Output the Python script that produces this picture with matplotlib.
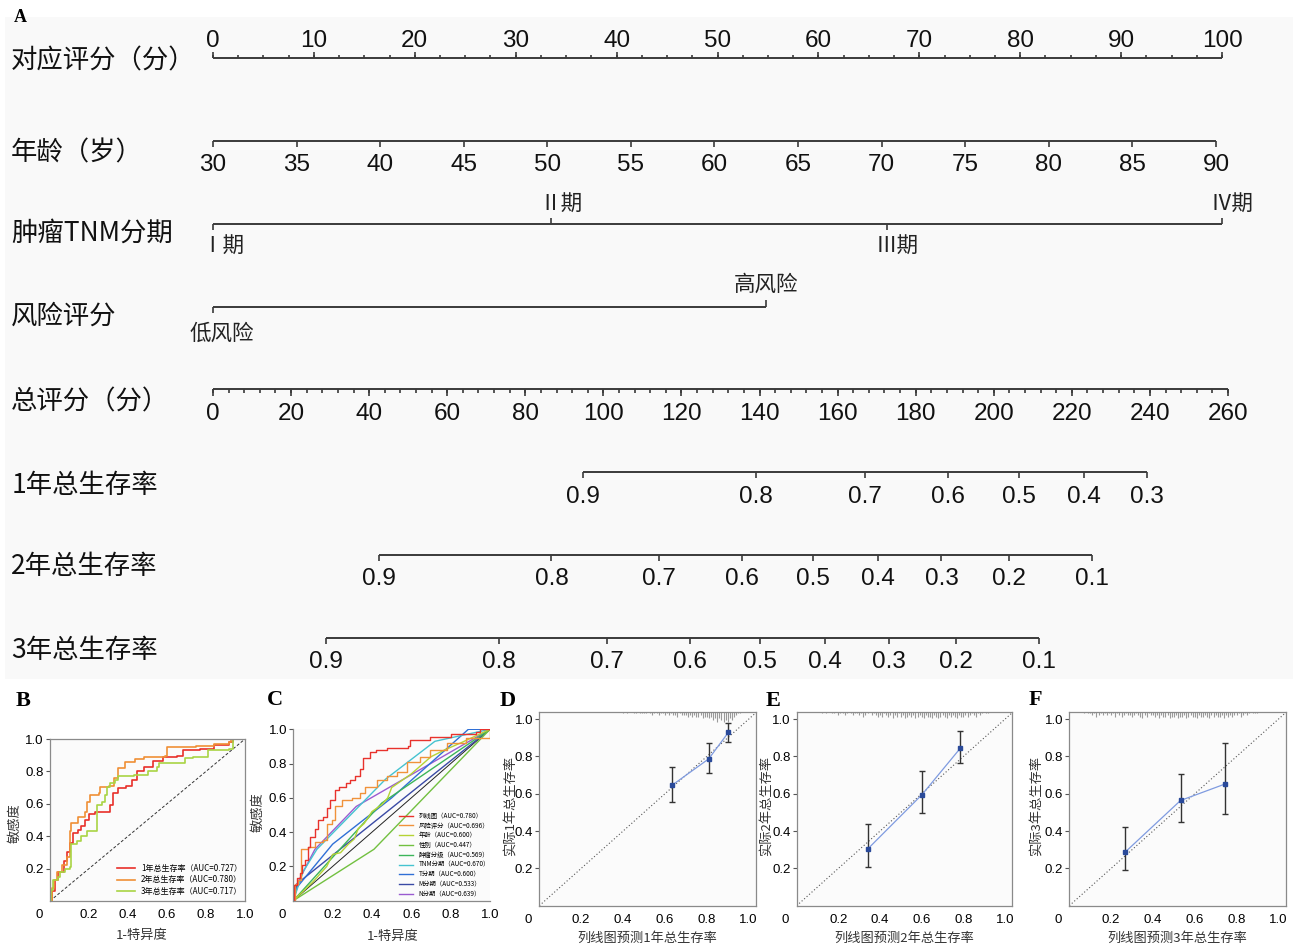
import numpy as np
import matplotlib
matplotlib.use('Agg')
import matplotlib.pyplot as plt
from matplotlib.transforms import offset_copy

plt.rcParams['font.family'] = ['Noto Sans CJK SC', 'DejaVu Sans']
NUM = ['Liberation Sans', 'DejaVu Sans']
SANS = ['Liberation Sans', 'DejaVu Sans']
SERIF = ['Liberation Serif', 'DejaVu Serif']

W, H = 1298, 946

# ---------------- nomogram (panel A) ----------------
row_names = ['对应评分（分）', '年龄（岁）', '肿瘤TNM分期', '风险评分',
             '总评分（分）', '1年总生存率', '2年总生存率', '3年总生存率']
points_ticks = list(range(0, 101, 10))
age_ticks = list(range(30, 91, 5))
age_max_points = 99.4
tnm_labels = ['Ⅰ期', 'Ⅱ期', 'Ⅲ期', 'Ⅳ期']
tnm_points = [0, 33.5, 66.8, 100]
tnm_up = [False, True, False, True]
risk_labels = ['低风险', '高风险']
risk_points = [0, 54.8]
risk_up = [False, True]
total_ticks = list(range(0, 261, 20))
total_max = 260
surv1_labels = ['0.9', '0.8', '0.7', '0.6', '0.5', '0.4', '0.3']
surv1_total = [94.8, 139.1, 166.9, 188.3, 206.5, 223.1, 239.3]
surv2_labels = ['0.9', '0.8', '0.7', '0.6', '0.5', '0.4', '0.3', '0.2', '0.1']
surv2_total = [42.4, 86.7, 114.2, 135.6, 153.7, 170.3, 186.6, 203.8, 225.1]
surv3_labels = ['0.9', '0.8', '0.7', '0.6', '0.5', '0.4', '0.3', '0.2', '0.1']
surv3_total = [28.9, 73.2, 100.8, 122.1, 140.2, 156.8, 173.1, 190.3, 211.5]

# ---------------- ROC (panel B) ----------------
roc1_x = [0, 0.01, 0.026, 0.043, 0.07, 0.085, 0.10, 0.12, 0.145, 0.16, 0.18, 0.20, 0.23, 0.29,
          0.31, 0.325, 0.35, 0.39, 0.42, 0.445, 0.48, 0.53, 0.58, 0.65, 0.68, 0.77, 0.84, 0.92, 0.94, 1.0]
roc1_y = [0, 0.06, 0.13, 0.18, 0.25, 0.30, 0.36, 0.42, 0.44, 0.46, 0.50, 0.54, 0.55, 0.55,
          0.59, 0.665, 0.70, 0.71, 0.75, 0.80, 0.83, 0.865, 0.887, 0.895, 0.93, 0.94, 0.96, 0.98, 1.0, 1.0]
roc2_x = [0, 0.01, 0.02, 0.034, 0.06, 0.085, 0.10, 0.11, 0.145, 0.18, 0.19, 0.205, 0.25, 0.256,
          0.30, 0.33, 0.35, 0.385, 0.436, 0.48, 0.59, 0.60, 0.75, 0.84, 0.92, 0.93, 1.0]
roc2_y = [0, 0.08, 0.13, 0.18, 0.22, 0.27, 0.43, 0.48, 0.52, 0.55, 0.61, 0.655, 0.665, 0.706,
          0.71, 0.76, 0.82, 0.86, 0.875, 0.89, 0.895, 0.95, 0.956, 0.97, 0.98, 1.0, 1.0]
roc3_x = [0, 0.005, 0.017, 0.043, 0.05, 0.077, 0.10, 0.11, 0.137, 0.16, 0.19, 0.23, 0.24, 0.265,
          0.28, 0.29, 0.31, 0.333, 0.35, 0.43, 0.50, 0.55, 0.56, 0.675, 0.69, 0.735, 0.81, 0.92, 0.94, 1.0]
roc3_y = [0, 0.07, 0.13, 0.15, 0.18, 0.20, 0.21, 0.35, 0.37, 0.40, 0.43, 0.43, 0.59, 0.61,
          0.655, 0.705, 0.73, 0.75, 0.77, 0.78, 0.80, 0.825, 0.85, 0.85, 0.88, 0.89, 0.93, 0.94, 1.0, 1.0]
roc_b_labels = ['1年总生存率（AUC=0.727）', '2年总生存率（AUC=0.780）', '3年总生存率（AUC=0.717）']
roc_b_colors = ['#e8302a', '#ef8f35', '#a9d444']

# ---------------- ROC (panel C) ----------------
c_nom_x = [0, 0.003, 0.017, 0.034, 0.042, 0.06, 0.076, 0.085, 0.11, 0.127, 0.153, 0.17, 0.186, 0.21,
           0.23, 0.27, 0.29, 0.314, 0.34, 0.356, 0.39, 0.42, 0.475, 0.585, 0.593, 0.695, 0.80, 0.93, 0.95, 1.0]
c_nom_y = [0, 0.09, 0.13, 0.16, 0.21, 0.24, 0.315, 0.37, 0.42, 0.47, 0.49, 0.54, 0.59, 0.645,
           0.665, 0.685, 0.705, 0.725, 0.77, 0.83, 0.87, 0.88, 0.89, 0.90, 0.94, 0.957, 0.973, 0.986, 1.0, 1.0]
c_risk_x = [0, 0.007, 0.025, 0.037, 0.076, 0.11, 0.153, 0.17, 0.195, 0.21, 0.246, 0.297, 0.34,
            0.364, 0.424, 0.475, 0.525, 0.576, 0.644, 0.695, 0.78, 0.88, 1.0]
c_risk_y = [0, 0.10, 0.12, 0.30, 0.315, 0.34, 0.355, 0.45, 0.47, 0.55, 0.59, 0.60, 0.626,
            0.665, 0.705, 0.725, 0.753, 0.81, 0.84, 0.88, 0.918, 0.947, 1.0]
c_age_x = [0, 0.10, 0.17, 0.20, 0.24, 0.28, 0.31, 0.33, 0.36, 0.40, 0.45, 0.48, 0.50, 0.55,
           0.60, 0.65, 0.70, 0.77, 0.85, 1.0]
c_age_y = [0, 0.11, 0.20, 0.27, 0.28, 0.33, 0.36, 0.42, 0.45, 0.52, 0.56, 0.60, 0.66, 0.70,
           0.74, 0.79, 0.84, 0.88, 0.92, 1.0]
c_sex_x = [0, 0.41, 1.0]
c_sex_y = [0, 0.30, 1.0]
c_grade_x = [0, 0.45, 1.0]
c_grade_y = [0, 0.57, 1.0]
c_tnm_x = [0, 0.05, 0.12, 0.47, 0.72, 1.0]
c_tnm_y = [0, 0.17, 0.30, 0.71, 0.93, 1.0]
c_t_x = [0, 0.02, 0.20, 0.50, 0.89, 1.0]
c_t_y = [0, 0.08, 0.33, 0.60, 1.0, 1.0]
c_m_x = [0, 0.02, 1.0]
c_m_y = [0, 0.10, 1.0]
c_n_x = [0, 0.02, 0.11, 0.32, 1.0]
c_n_y = [0, 0.10, 0.30, 0.55, 1.0]
c_labels = ['列线图（AUC=0.780）', '风险评分（AUC=0.696）', '年龄（AUC=0.600）', '性别（AUC=0.447）',
            '肿瘤分级（AUC=0.569）', 'TNM分期（AUC=0.670）', 'T分期（AUC=0.600）',
            'M分期（AUC=0.533）', 'N分期（AUC=0.639）']
c_colors = ['#e8322c', '#f0923a', '#b5d334', '#72c040', '#3cb55a', '#45c3d0', '#2f6fd6', '#3a4aa5', '#9a5bd0']

# ---------------- calibration (panels D-F) ----------------
cal_pred = [[0.633, 0.809, 0.903], [0.341, 0.602, 0.786], [0.266, 0.532, 0.744]]
cal_obs = [[0.645, 0.787, 0.929], [0.304, 0.596, 0.845], [0.286, 0.564, 0.652]]
cal_lo = [[0.554, 0.714, 0.880], [0.209, 0.496, 0.766], [0.189, 0.448, 0.489]]
cal_hi = [[0.745, 0.873, 0.980], [0.4375, 0.723, 0.936], [0.421, 0.705, 0.871]]
cal_xlabels = ['列线图预测1年总生存率', '列线图预测2年总生存率', '列线图预测3年总生存率']
cal_ylabels = ['实际1年总生存率', '实际2年总生存率', '实际3年总生存率']
rug_start = [0.40, 0.12, 0.07]
rug_heights = [
    [1, 0, 1, 0, 0, 1, 1, 0, 1, 1, 1, 1, 0, 1, 2, 1, 1, 2, 1, 1,
     2, 1, 2, 1, 2, 2, 3, 1, 2, 2, 2, 3, 2, 3, 2, 3, 3, 2, 4, 3,
     3, 4, 3, 5, 4, 6, 4, 5, 6, 5, 6, 4, 5, 3, 2, 1, 1],
    [1, 0, 1, 0, 0, 1, 1, 0, 2, 1, 1, 2, 1, 0, 1, 2, 1, 1, 2, 1, 3, 2, 1, 0, 2, 1, 2, 3,
     2, 3, 1, 2, 3, 2, 4, 2, 3, 1, 3, 2, 4, 3, 2, 3, 2, 4, 3, 2, 3, 4, 2, 3, 3, 4, 2, 3,
     4, 3, 2, 3, 4, 2, 3, 2, 3, 4, 2, 3, 3, 2, 3, 2, 1, 2, 3, 1, 2, 1, 0, 1, 1],
    [1, 0, 1, 1, 2, 1, 3, 2, 1, 2, 1, 2, 1, 2, 1, 3, 1, 2, 3, 2, 1, 2, 2, 3, 2, 1, 2, 3,
     4, 2, 3, 1, 2, 2, 3, 2, 4, 2, 3, 3, 2, 4, 3, 3, 2, 4, 3, 3, 2, 4, 3, 2, 3, 3, 4, 2,
     3, 3, 2, 3, 4, 2, 3, 2, 3, 3, 2, 4, 2, 3, 2, 3, 2, 2, 1, 3, 2, 1, 2, 1, 0, 1, 1, 1],
]

fig = plt.figure(figsize=(W / 100, H / 100), dpi=100)


def fr(x0, y0, x1, y1):
    # pixel box -> figure fraction rect
    return [x0 / W, 1 - y1 / H, (x1 - x0) / W, (y1 - y0) / H]


# ================= panel A =================
ax = fig.add_axes(fr(5, 16.6, 1293, 679.4))
ax.set_facecolor('#f9f9f9')
for s in ax.spines.values():
    s.set_visible(False)
ax.set_xticks([])
ax.set_yticks([])
px_per_pt = (1222 - 213) / 100
ax.set_xlim(-(213 - 5) / px_per_pt, 100 + (1293 - 1222) / px_per_pt)
ax.set_ylim(7.5, -0.5)
LC = '#3a3a3a'
MAJ, MIN = 0.075, 0.04
tot_k = ((1228 - 213) / px_per_pt) / total_max


def axis_line(row, xs):
    ax.plot([min(xs), max(xs)], [row, row], color=LC, lw=1.4, solid_capstyle='butt')


def tick_marks(row, xs, length, up):
    ax.vlines(xs, row, row - length if up else row + length, color=LC, lw=1.2)


def num_labels(row, xs, labels, up):
    for x, t in zip(xs, labels):
        ax.text(x, row - 0.07 if up else row + 0.16, t, ha='center',
                va='bottom' if up else 'top', fontsize=17.5, family=NUM, color='#111')


def cat_labels(row, xs, labels, ups, below_gap, above_gap, dx):
    for x, lab, up, off in zip(xs, labels, ups, dx):
        tick_marks(row, [x], MAJ, up)
        ax.text(x, row - above_gap if up else row + below_gap, lab, ha='center',
                va='bottom' if up else 'top', fontsize=15.5, color='#222',
                transform=offset_copy(ax.transData, fig=fig, x=off, y=0, units='dots'))


# row 0: points
axis_line(0, [0, 100])
tick_marks(0, points_ticks, MAJ, True)
tick_marks(0, np.arange(0, 100.01, 2.5), MIN, True)
num_labels(0, points_ticks, [str(v) for v in points_ticks], True)

# row 1: age
age_x = [(a - age_ticks[0]) / (age_ticks[-1] - age_ticks[0]) * age_max_points for a in age_ticks]
axis_line(1, age_x)
tick_marks(1, age_x, MAJ, False)
num_labels(1, age_x, [str(a) for a in age_ticks], False)

# row 2: TNM stage
axis_line(2, tnm_points)
cat_labels(2, tnm_points, tnm_labels, tnm_up, 0.15, 0.1, [10, 10, 10, 10])

# row 3: risk score
axis_line(3, risk_points)
cat_labels(3, risk_points, risk_labels, risk_up, 0.2, 0.13, [9, 0])

# row 4: total points
tot_x = [t * tot_k for t in total_ticks]
axis_line(4, tot_x)
tick_marks(4, tot_x, MAJ, False)
tick_marks(4, np.arange(0, total_max + 0.01, 4) * tot_k, MIN, False)
num_labels(4, tot_x, [str(t) for t in total_ticks], False)

# rows 5-7: survival
for row, tots, labs in [(5, surv1_total, surv1_labels), (6, surv2_total, surv2_labels), (7, surv3_total, surv3_labels)]:
    xs = [t * tot_k for t in tots]
    axis_line(row, xs)
    tick_marks(row, xs, MAJ, False)
    num_labels(row, xs, labs, False)

name_dy = [0.04, 0.15, 0.11, 0.12, 0.15, 0.16, 0.14, 0.15]
for i, name in enumerate(row_names):
    ax.text(-20.0, i + name_dy[i], name, ha='left', va='center', fontsize=19, color='#111')

fig.text(14 / W, 1 - 17 / H, 'A', family=SERIF, fontweight='bold', fontsize=13, va='center')


# ================= bottom panels helpers =================
def style(a, box=True):
    a.set_facecolor('#fbfbfb')
    for s in a.spines.values():
        s.set_color('#8a8a8a')
        s.set_linewidth(0.9)
    if not box:
        a.spines['top'].set_visible(False)
        a.spines['right'].set_visible(False)
    ticks = [0.2, 0.4, 0.6, 0.8, 1.0]
    a.set_xticks(ticks, labels=['0.2', '0.4', '0.6', '0.8', '1.0'], fontsize=9.5, family=SANS)
    a.set_yticks(ticks, labels=['0.2', '0.4', '0.6', '0.8', '1.0'], fontsize=9.5, family=SANS)
    a.tick_params(axis='y', length=3, width=0.8, color='#555', pad=1.5)
    a.tick_params(axis='x', length=0, pad=6)
    a.annotate('0', xy=(0, 0), xycoords='axes fraction', xytext=(-8, -6), textcoords='offset points',
               ha='center', va='top', fontsize=9.5, family=SANS)


def letter(x, y, t):
    fig.text(x / W, 1 - y / H, t, family=SERIF, fontweight='bold', fontsize=16, ha='center', va='center')


def ylab(x, y, t):
    fig.text(x / W, 1 - y / H, t, rotation=90, ha='center', va='center', fontsize=9.5, color='#333')


def xlab(x, y, t):
    fig.text(x / W, 1 - y / H, t, ha='center', va='center', fontsize=9.5, color='#333')


# ================= panel B =================
axb = fig.add_axes(fr(50, 739, 245, 901))
axb.set_xlim(0, 1)
axb.set_ylim(0, 1)
style(axb, box=True)
axb.plot([0, 1], [0, 1], ls=(0, (3, 2)), color='#333', lw=0.7)
for xs, ys, col, lab in zip([roc1_x, roc2_x, roc3_x], [roc1_y, roc2_y, roc3_y], roc_b_colors, roc_b_labels):
    axb.plot(xs, ys, drawstyle='steps-post', color=col, lw=1.2, label=lab)
axb.legend(loc='lower left', bbox_to_anchor=(0.31, -0.01), frameon=False, fontsize=5.8,
           handlelength=2.2, labelspacing=0.35, handletextpad=0.8, borderpad=0.3)
letter(23, 701, 'B')
ylab(15, 823, '敏感度')
xlab(142, 935, '1-特异度')

# ================= panel C =================
axc = fig.add_axes(fr(293.3, 729.3, 490, 900.7))
axc.set_xlim(0, 1)
axc.set_ylim(0, 1)
style(axc, box=False)
axc.plot([0, 1], [0, 1], color='#222', lw=0.7)
c_x = [c_nom_x, c_risk_x, c_age_x, c_sex_x, c_grade_x, c_tnm_x, c_t_x, c_m_x, c_n_x]
c_y = [c_nom_y, c_risk_y, c_age_y, c_sex_y, c_grade_y, c_tnm_y, c_t_y, c_m_y, c_n_y]
c_step = [True, True, False, False, False, False, False, False, False]
order = [8, 7, 6, 5, 4, 3, 2, 1, 0]
handles = [None] * 9
for i in order:
    ln, = axc.plot(c_x[i], c_y[i], drawstyle='steps-post' if c_step[i] else 'default',
                   color=c_colors[i], lw=1.0, label=c_labels[i])
    handles[i] = ln
axc.legend(handles=handles, loc='lower left', bbox_to_anchor=(0.51, -0.015), frameon=False,
           fontsize=4.6, handlelength=2.3, labelspacing=0.28, handletextpad=0.8, borderpad=0.3)
letter(275, 700, 'C')
ylab(258, 812, '敏感度')
xlab(393, 936, '1-特异度')

# ================= panels D, E, F =================
cal_boxes = [(539.3, 756), (796.7, 1012.3), (1069.3, 1285.7)]
cal_letters = [('D', 508, 701), ('E', 773, 701), ('F', 1035, 700)]
cal_ylab_x = [510, 766, 1036]
for k in range(3):
    x0, x1 = cal_boxes[k]
    a = fig.add_axes(fr(x0, 711.7, x1, 905.7))
    a.set_xlim(0, 1.035)
    a.set_ylim(0, 1.04)
    style(a, box=True)
    a.plot([0, 1.04], [0, 1.04], ls=(0, (1, 2)), color='#555', lw=0.8)
    rx = [rug_start[k] + 0.01 * j for j in range(len(rug_heights[k]))]
    rh = [0.009 * h for h in rug_heights[k]]
    a.vlines(rx, [1.04 - h for h in rh], 1.04, color='#9a9a9a', lw=0.8)
    yerr = [[o - l for o, l in zip(cal_obs[k], cal_lo[k])], [h - o for o, h in zip(cal_obs[k], cal_hi[k])]]
    a.errorbar(cal_pred[k], cal_obs[k], yerr=yerr, fmt='none', ecolor='#333', elinewidth=1.0, capsize=2.5, capthick=1.0)
    a.plot(cal_pred[k], cal_obs[k], color='#7f9be0', lw=0.9, marker='s', ms=2.6,
           mfc='#2a4a9a', mec='#2a4a9a')
    letter(cal_letters[k][1], cal_letters[k][2], cal_letters[k][0])
    ylab(cal_ylab_x[k], 806, cal_ylabels[k])
    xlab((x0 + x1) / 2, 938, cal_xlabels[k])

fig.savefig('out.png', dpi=100)
